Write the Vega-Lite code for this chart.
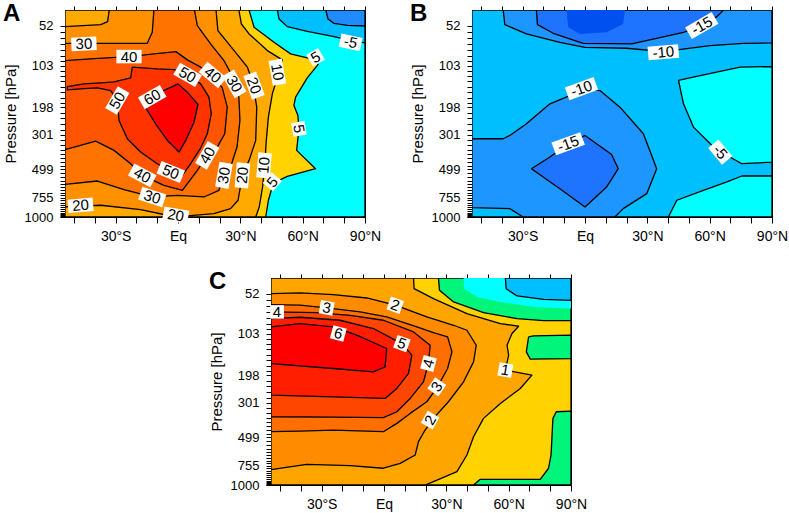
{
"$schema": "https://vega.github.io/schema/vega-lite/v6.json",
"padding": {"left": 2, "top": 1, "right": 0, "bottom": 0},
"config": {
  "font": "Liberation Sans",
  "view": {"stroke": "black", "strokeWidth": 1},
  "axis": {"labelFont": "Liberation Sans", "titleFont": "Liberation Sans", "labelColor": "black", "titleColor": "black", "tickColor": "black", "domainColor": "black", "grid": false},
  "title": {"font": "Liberation Sans", "color": "black"}
},
"datasets": {
"poly": [
{"panel":"A","pg":"A0","band":"a_cyan","i":0,"lat":-54.4,"p":38.6},{"panel":"A","pg":"A0","band":"a_cyan","i":1,"lat":90,"p":38.6},{"panel":"A","pg":"A0","band":"a_cyan","i":2,"lat":90,"p":1000},{"panel":"A","pg":"A0","band":"a_cyan","i":3,"lat":-54.4,"p":1000},{"panel":"A","pg":"A0","band":"a_cyan","i":4,"lat":-54.4,"p":38.6},
{"panel":"A","pg":"A1","band":"a_m10_m5","i":0,"lat":47.8,"p":38.6},{"panel":"A","pg":"A1","band":"a_m10_m5","i":1,"lat":48.6,"p":45.9},{"panel":"A","pg":"A1","band":"a_m10_m5","i":2,"lat":52.6,"p":52.9},{"panel":"A","pg":"A1","band":"a_m10_m5","i":3,"lat":62.2,"p":57.6},{"panel":"A","pg":"A1","band":"a_m10_m5","i":4,"lat":75.1,"p":63.2},{"panel":"A","pg":"A1","band":"a_m10_m5","i":5,"lat":83.1,"p":67.8},{"panel":"A","pg":"A1","band":"a_m10_m5","i":6,"lat":90,"p":70.6},{"panel":"A","pg":"A1","band":"a_m10_m5","i":7,"lat":90,"p":38.6},{"panel":"A","pg":"A1","band":"a_m10_m5","i":8,"lat":47.8,"p":38.6},
{"panel":"A","pg":"A2","band":"a_lt_m10","i":0,"lat":71.1,"p":38.6},{"panel":"A","pg":"A2","band":"a_lt_m10","i":1,"lat":72.2,"p":45.9},{"panel":"A","pg":"A2","band":"a_lt_m10","i":2,"lat":75.1,"p":49.8},{"panel":"A","pg":"A2","band":"a_lt_m10","i":3,"lat":81.5,"p":51.6},{"panel":"A","pg":"A2","band":"a_lt_m10","i":4,"lat":90,"p":52.3},{"panel":"A","pg":"A2","band":"a_lt_m10","i":5,"lat":90,"p":38.6},{"panel":"A","pg":"A2","band":"a_lt_m10","i":6,"lat":71.1,"p":38.6},
{"panel":"A","pg":"A3","band":"a_5_10","i":0,"lat":-54.4,"p":38.6},{"panel":"A","pg":"A3","band":"a_5_10","i":1,"lat":34.2,"p":38.6},{"panel":"A","pg":"A3","band":"a_5_10","i":2,"lat":36.6,"p":53.5},{"panel":"A","pg":"A3","band":"a_5_10","i":3,"lat":46.2,"p":69.8},{"panel":"A","pg":"A3","band":"a_5_10","i":4,"lat":54.2,"p":85},{"panel":"A","pg":"A3","band":"a_5_10","i":5,"lat":66.2,"p":93.9},{"panel":"A","pg":"A3","band":"a_5_10","i":6,"lat":67.4,"p":101.4},{"panel":"A","pg":"A3","band":"a_5_10","i":7,"lat":62.2,"p":125.6},{"panel":"A","pg":"A3","band":"a_5_10","i":8,"lat":56.6,"p":169.9},{"panel":"A","pg":"A3","band":"a_5_10","i":9,"lat":55.8,"p":193.1},{"panel":"A","pg":"A3","band":"a_5_10","i":10,"lat":57.7,"p":224.8},{"panel":"A","pg":"A3","band":"a_5_10","i":11,"lat":58.2,"p":274.8},{"panel":"A","pg":"A3","band":"a_5_10","i":12,"lat":57.1,"p":378.9},{"panel":"A","pg":"A3","band":"a_5_10","i":13,"lat":66.2,"p":496},{"panel":"A","pg":"A3","band":"a_5_10","i":14,"lat":52.6,"p":554.6},{"panel":"A","pg":"A3","band":"a_5_10","i":15,"lat":45.9,"p":611},{"panel":"A","pg":"A3","band":"a_5_10","i":16,"lat":43.5,"p":785},{"panel":"A","pg":"A3","band":"a_5_10","i":17,"lat":42.2,"p":1000},{"panel":"A","pg":"A3","band":"a_5_10","i":18,"lat":-54.4,"p":1000},{"panel":"A","pg":"A3","band":"a_5_10","i":19,"lat":-54.4,"p":38.6},
{"panel":"A","pg":"A4","band":"a_10_20","i":0,"lat":-54.4,"p":38.6},{"panel":"A","pg":"A4","band":"a_10_20","i":1,"lat":29.3,"p":38.6},{"panel":"A","pg":"A4","band":"a_10_20","i":2,"lat":30.5,"p":50.4},{"panel":"A","pg":"A4","band":"a_10_20","i":3,"lat":34.2,"p":60.3},{"panel":"A","pg":"A4","band":"a_10_20","i":4,"lat":43,"p":80.4},{"panel":"A","pg":"A4","band":"a_10_20","i":5,"lat":50.2,"p":93.9},{"panel":"A","pg":"A4","band":"a_10_20","i":6,"lat":48.6,"p":114.7},{"panel":"A","pg":"A4","band":"a_10_20","i":7,"lat":45.4,"p":161.4},{"panel":"A","pg":"A4","band":"a_10_20","i":8,"lat":43.5,"p":230.6},{"panel":"A","pg":"A4","band":"a_10_20","i":9,"lat":42.5,"p":326.9},{"panel":"A","pg":"A4","band":"a_10_20","i":10,"lat":41.7,"p":472.4},{"panel":"A","pg":"A4","band":"a_10_20","i":11,"lat":40.7,"p":647.6},{"panel":"A","pg":"A4","band":"a_10_20","i":12,"lat":39.1,"p":865},{"panel":"A","pg":"A4","band":"a_10_20","i":13,"lat":37.4,"p":1000},{"panel":"A","pg":"A4","band":"a_10_20","i":14,"lat":-54.4,"p":1000},{"panel":"A","pg":"A4","band":"a_10_20","i":15,"lat":-54.4,"p":38.6},
{"panel":"A","pg":"A5","band":"a_20_30","i":0,"lat":-54.4,"p":52.9},{"panel":"A","pg":"A5","band":"a_20_30","i":1,"lat":-37.2,"p":51},{"panel":"A","pg":"A5","band":"a_20_30","i":2,"lat":-33.9,"p":48.3},{"panel":"A","pg":"A5","band":"a_20_30","i":3,"lat":-33.1,"p":38.6},{"panel":"A","pg":"A5","band":"a_20_30","i":4,"lat":18.3,"p":38.6},{"panel":"A","pg":"A5","band":"a_20_30","i":5,"lat":19.2,"p":56.9},{"panel":"A","pg":"A5","band":"a_20_30","i":6,"lat":27,"p":80.4},{"panel":"A","pg":"A5","band":"a_20_30","i":7,"lat":33.4,"p":105.8},{"panel":"A","pg":"A5","band":"a_20_30","i":8,"lat":35.9,"p":133.1},{"panel":"A","pg":"A5","band":"a_20_30","i":9,"lat":37.9,"p":198.1},{"panel":"A","pg":"A5","band":"a_20_30","i":10,"lat":37.4,"p":326.9},{"panel":"A","pg":"A5","band":"a_20_30","i":11,"lat":34.2,"p":439},{"panel":"A","pg":"A5","band":"a_20_30","i":12,"lat":31,"p":546.6},{"panel":"A","pg":"A5","band":"a_20_30","i":13,"lat":28.9,"p":785},{"panel":"A","pg":"A5","band":"a_20_30","i":14,"lat":25.3,"p":886},{"panel":"A","pg":"A5","band":"a_20_30","i":15,"lat":17.3,"p":952},{"panel":"A","pg":"A5","band":"a_20_30","i":16,"lat":4.5,"p":984},{"panel":"A","pg":"A5","band":"a_20_30","i":17,"lat":-5.1,"p":975},{"panel":"A","pg":"A5","band":"a_20_30","i":18,"lat":-18,"p":898.7},{"panel":"A","pg":"A5","band":"a_20_30","i":19,"lat":-37.2,"p":844},{"panel":"A","pg":"A5","band":"a_20_30","i":20,"lat":-54.4,"p":865},{"panel":"A","pg":"A5","band":"a_20_30","i":21,"lat":-54.4,"p":52.9},
{"panel":"A","pg":"A6","band":"a_30_40","i":0,"lat":-54.4,"p":71},{"panel":"A","pg":"A6","band":"a_30_40","i":1,"lat":-37.2,"p":71},{"panel":"A","pg":"A6","band":"a_30_40","i":2,"lat":-14.8,"p":71},{"panel":"A","pg":"A6","band":"a_30_40","i":3,"lat":-12.4,"p":58.6},{"panel":"A","pg":"A6","band":"a_30_40","i":4,"lat":-11.6,"p":38.6},{"panel":"A","pg":"A6","band":"a_30_40","i":5,"lat":7.9,"p":38.6},{"panel":"A","pg":"A6","band":"a_30_40","i":6,"lat":9.3,"p":51.9},{"panel":"A","pg":"A6","band":"a_30_40","i":7,"lat":15.7,"p":71.8},{"panel":"A","pg":"A6","band":"a_30_40","i":8,"lat":22.1,"p":94.9},{"panel":"A","pg":"A6","band":"a_30_40","i":9,"lat":27.1,"p":129.6},{"panel":"A","pg":"A6","band":"a_30_40","i":10,"lat":29.3,"p":169.9},{"panel":"A","pg":"A6","band":"a_30_40","i":11,"lat":29.8,"p":242.5},{"panel":"A","pg":"A6","band":"a_30_40","i":12,"lat":28.4,"p":360.8},{"panel":"A","pg":"A6","band":"a_30_40","i":13,"lat":25.3,"p":483.9},{"panel":"A","pg":"A6","band":"a_30_40","i":14,"lat":22.1,"p":546.6},{"panel":"A","pg":"A6","band":"a_30_40","i":15,"lat":19.7,"p":679.6},{"panel":"A","pg":"A6","band":"a_30_40","i":16,"lat":12.5,"p":748.6},{"panel":"A","pg":"A6","band":"a_30_40","i":17,"lat":-0.3,"p":730.8},{"panel":"A","pg":"A6","band":"a_30_40","i":18,"lat":-12.4,"p":748.6},{"panel":"A","pg":"A6","band":"a_30_40","i":19,"lat":-26,"p":673.1},{"panel":"A","pg":"A6","band":"a_30_40","i":20,"lat":-38.8,"p":593.7},{"panel":"A","pg":"A6","band":"a_30_40","i":21,"lat":-54.4,"p":623},{"panel":"A","pg":"A6","band":"a_30_40","i":22,"lat":-54.4,"p":71},
{"panel":"A","pg":"A7","band":"a_40_50","i":0,"lat":-54.4,"p":94.9},{"panel":"A","pg":"A7","band":"a_40_50","i":1,"lat":-40.4,"p":91.9},{"panel":"A","pg":"A7","band":"a_40_50","i":2,"lat":-23.4,"p":88.9},{"panel":"A","pg":"A7","band":"a_40_50","i":3,"lat":-11.6,"p":85},{"panel":"A","pg":"A7","band":"a_40_50","i":4,"lat":-1,"p":81.8},{"panel":"A","pg":"A7","band":"a_40_50","i":5,"lat":4.5,"p":93.9},{"panel":"A","pg":"A7","band":"a_40_50","i":6,"lat":10.9,"p":105.8},{"panel":"A","pg":"A7","band":"a_40_50","i":7,"lat":16.7,"p":119.8},{"panel":"A","pg":"A7","band":"a_40_50","i":8,"lat":21.3,"p":147},{"panel":"A","pg":"A7","band":"a_40_50","i":9,"lat":23.7,"p":198.1},{"panel":"A","pg":"A7","band":"a_40_50","i":10,"lat":22.5,"p":296},{"panel":"A","pg":"A7","band":"a_40_50","i":11,"lat":18.9,"p":360.8},{"panel":"A","pg":"A7","band":"a_40_50","i":12,"lat":14.1,"p":407.9},{"panel":"A","pg":"A7","band":"a_40_50","i":13,"lat":9.3,"p":508.2},{"panel":"A","pg":"A7","band":"a_40_50","i":14,"lat":2.1,"p":679.6},{"panel":"A","pg":"A7","band":"a_40_50","i":15,"lat":-6.8,"p":632},{"panel":"A","pg":"A7","band":"a_40_50","i":16,"lat":-17.2,"p":546.6},{"panel":"A","pg":"A7","band":"a_40_50","i":17,"lat":-22.8,"p":461},{"panel":"A","pg":"A7","band":"a_40_50","i":18,"lat":-30.8,"p":378.9},{"panel":"A","pg":"A7","band":"a_40_50","i":19,"lat":-39.6,"p":330.1},{"panel":"A","pg":"A7","band":"a_40_50","i":20,"lat":-54.4,"p":375.2},{"panel":"A","pg":"A7","band":"a_40_50","i":21,"lat":-54.4,"p":94.9},
{"panel":"A","pg":"A8","band":"a_50_60","i":0,"lat":-22,"p":105.8},{"panel":"A","pg":"A8","band":"a_50_60","i":1,"lat":-10,"p":108.7},{"panel":"A","pg":"A8","band":"a_50_60","i":2,"lat":-1.9,"p":109.9},{"panel":"A","pg":"A8","band":"a_50_60","i":3,"lat":4.6,"p":119.8},{"panel":"A","pg":"A8","band":"a_50_60","i":4,"lat":10.9,"p":138.1},{"panel":"A","pg":"A8","band":"a_50_60","i":5,"lat":14.9,"p":169.9},{"panel":"A","pg":"A8","band":"a_50_60","i":6,"lat":16,"p":219.2},{"panel":"A","pg":"A8","band":"a_50_60","i":7,"lat":14.1,"p":296},{"panel":"A","pg":"A8","band":"a_50_60","i":8,"lat":10.9,"p":366.2},{"panel":"A","pg":"A8","band":"a_50_60","i":9,"lat":6.1,"p":461},{"panel":"A","pg":"A8","band":"a_50_60","i":10,"lat":2.1,"p":546.6},{"panel":"A","pg":"A8","band":"a_50_60","i":11,"lat":-3.5,"p":520.8},{"panel":"A","pg":"A8","band":"a_50_60","i":12,"lat":-10,"p":461},{"panel":"A","pg":"A8","band":"a_50_60","i":13,"lat":-18,"p":388.4},{"panel":"A","pg":"A8","band":"a_50_60","i":14,"lat":-24.4,"p":318.9},{"panel":"A","pg":"A8","band":"a_50_60","i":15,"lat":-28.4,"p":242.5},{"panel":"A","pg":"A8","band":"a_50_60","i":16,"lat":-29.2,"p":178.9},{"panel":"A","pg":"A8","band":"a_50_60","i":17,"lat":-32.4,"p":153.3},{"panel":"A","pg":"A8","band":"a_50_60","i":18,"lat":-38.8,"p":147},{"panel":"A","pg":"A8","band":"a_50_60","i":19,"lat":-45.3,"p":148.9},{"panel":"A","pg":"A8","band":"a_50_60","i":20,"lat":-53.3,"p":151.7},{"panel":"A","pg":"A8","band":"a_50_60","i":21,"lat":-53.3,"p":144},{"panel":"A","pg":"A8","band":"a_50_60","i":22,"lat":-45.3,"p":138.1},{"panel":"A","pg":"A8","band":"a_50_60","i":23,"lat":-37.2,"p":135.9},{"panel":"A","pg":"A8","band":"a_50_60","i":24,"lat":-30.8,"p":133.8},{"panel":"A","pg":"A8","band":"a_50_60","i":25,"lat":-22.8,"p":125.6},{"panel":"A","pg":"A8","band":"a_50_60","i":26,"lat":-22,"p":105.8},
{"panel":"A","pg":"A9","band":"a_gt60","i":0,"lat":-17.2,"p":183.5},{"panel":"A","pg":"A9","band":"a_gt60","i":1,"lat":-8.4,"p":157.3},{"panel":"A","pg":"A9","band":"a_gt60","i":2,"lat":0,"p":138.1},{"panel":"A","pg":"A9","band":"a_gt60","i":3,"lat":4.5,"p":157.3},{"panel":"A","pg":"A9","band":"a_gt60","i":4,"lat":9.6,"p":190.2},{"panel":"A","pg":"A9","band":"a_gt60","i":5,"lat":7.7,"p":248.6},{"panel":"A","pg":"A9","band":"a_gt60","i":6,"lat":3.7,"p":326.9},{"panel":"A","pg":"A9","band":"a_gt60","i":7,"lat":0.5,"p":388.4},{"panel":"A","pg":"A9","band":"a_gt60","i":8,"lat":-5.1,"p":326.9},{"panel":"A","pg":"A9","band":"a_gt60","i":9,"lat":-10.8,"p":254.9},{"panel":"A","pg":"A9","band":"a_gt60","i":10,"lat":-14.8,"p":208.4},{"panel":"A","pg":"A9","band":"a_gt60","i":11,"lat":-17.2,"p":183.5},
{"panel":"B","pg":"B0","band":"b_m10_m5","i":0,"lat":-54.4,"p":38.6},{"panel":"B","pg":"B0","band":"b_m10_m5","i":1,"lat":90,"p":38.6},{"panel":"B","pg":"B0","band":"b_m10_m5","i":2,"lat":90,"p":1000},{"panel":"B","pg":"B0","band":"b_m10_m5","i":3,"lat":-54.4,"p":1000},{"panel":"B","pg":"B0","band":"b_m10_m5","i":4,"lat":-54.4,"p":38.6},
{"panel":"B","pg":"B1","band":"b_gt_m5","i":0,"lat":45,"p":130.9},{"panel":"B","pg":"B1","band":"b_gt_m5","i":1,"lat":55.4,"p":121.1},{"panel":"B","pg":"B1","band":"b_gt_m5","i":2,"lat":74.7,"p":105.8},{"panel":"B","pg":"B1","band":"b_gt_m5","i":3,"lat":90,"p":104.7},{"panel":"B","pg":"B1","band":"b_gt_m5","i":4,"lat":90,"p":450.6},{"panel":"B","pg":"B1","band":"b_gt_m5","i":5,"lat":75.5,"p":461},{"panel":"B","pg":"B1","band":"b_gt_m5","i":6,"lat":68.3,"p":407.9},{"panel":"B","pg":"B1","band":"b_gt_m5","i":7,"lat":61.9,"p":360.8},{"panel":"B","pg":"B1","band":"b_gt_m5","i":8,"lat":52.2,"p":268},{"panel":"B","pg":"B1","band":"b_gt_m5","i":9,"lat":47.4,"p":188.3},{"panel":"B","pg":"B1","band":"b_gt_m5","i":10,"lat":45,"p":130.9},
{"panel":"B","pg":"B2","band":"b_gt_m5","i":0,"lat":40.1,"p":1000},{"panel":"B","pg":"B2","band":"b_gt_m5","i":1,"lat":44.2,"p":785},{"panel":"B","pg":"B2","band":"b_gt_m5","i":2,"lat":57,"p":679.6},{"panel":"B","pg":"B2","band":"b_gt_m5","i":3,"lat":68.3,"p":602},{"panel":"B","pg":"B2","band":"b_gt_m5","i":4,"lat":75.5,"p":552},{"panel":"B","pg":"B2","band":"b_gt_m5","i":5,"lat":90,"p":552},{"panel":"B","pg":"B2","band":"b_gt_m5","i":6,"lat":90,"p":1000},{"panel":"B","pg":"B2","band":"b_gt_m5","i":7,"lat":40.1,"p":1000},
{"panel":"B","pg":"B3","band":"b_m15_m10","i":0,"lat":-39.4,"p":38.6},{"panel":"B","pg":"B3","band":"b_m15_m10","i":1,"lat":-38.6,"p":51},{"panel":"B","pg":"B3","band":"b_m15_m10","i":2,"lat":-28.2,"p":60.3},{"panel":"B","pg":"B3","band":"b_m15_m10","i":3,"lat":-12.1,"p":69.8},{"panel":"B","pg":"B3","band":"b_m15_m10","i":4,"lat":0,"p":76.1},{"panel":"B","pg":"B3","band":"b_m15_m10","i":5,"lat":20,"p":77.3},{"panel":"B","pg":"B3","band":"b_m15_m10","i":6,"lat":37.7,"p":81.7},{"panel":"B","pg":"B3","band":"b_m15_m10","i":7,"lat":60.2,"p":73.9},{"panel":"B","pg":"B3","band":"b_m15_m10","i":8,"lat":76.3,"p":71},{"panel":"B","pg":"B3","band":"b_m15_m10","i":9,"lat":90,"p":70.6},{"panel":"B","pg":"B3","band":"b_m15_m10","i":10,"lat":90,"p":38.6},{"panel":"B","pg":"B3","band":"b_m15_m10","i":11,"lat":-39.4,"p":38.6},
{"panel":"B","pg":"B4","band":"b_m15_m10","i":0,"lat":-54.4,"p":318.9},{"panel":"B","pg":"B4","band":"b_m15_m10","i":1,"lat":-39.4,"p":318.9},{"panel":"B","pg":"B4","band":"b_m15_m10","i":2,"lat":-36.2,"p":303.5},{"panel":"B","pg":"B4","band":"b_m15_m10","i":3,"lat":-28.2,"p":254.9},{"panel":"B","pg":"B4","band":"b_m15_m10","i":4,"lat":-16.9,"p":188.3},{"panel":"B","pg":"B4","band":"b_m15_m10","i":5,"lat":-7.3,"p":165.7},{"panel":"B","pg":"B4","band":"b_m15_m10","i":6,"lat":-1.7,"p":148.9},{"panel":"B","pg":"B4","band":"b_m15_m10","i":7,"lat":7.2,"p":153.3},{"panel":"B","pg":"B4","band":"b_m15_m10","i":8,"lat":16.8,"p":198.1},{"panel":"B","pg":"B4","band":"b_m15_m10","i":9,"lat":28.1,"p":296},{"panel":"B","pg":"B4","band":"b_m15_m10","i":10,"lat":34.5,"p":496},{"panel":"B","pg":"B4","band":"b_m15_m10","i":11,"lat":29.7,"p":713.4},{"panel":"B","pg":"B4","band":"b_m15_m10","i":12,"lat":18.4,"p":886},{"panel":"B","pg":"B4","band":"b_m15_m10","i":13,"lat":14.4,"p":1000},{"panel":"B","pg":"B4","band":"b_m15_m10","i":14,"lat":-29.8,"p":1000},{"panel":"B","pg":"B4","band":"b_m15_m10","i":15,"lat":-36.2,"p":886},{"panel":"B","pg":"B4","band":"b_m15_m10","i":16,"lat":-54.4,"p":873},{"panel":"B","pg":"B4","band":"b_m15_m10","i":17,"lat":-54.4,"p":318.9},
{"panel":"B","pg":"B5","band":"b_lt_m15","i":0,"lat":-23.4,"p":38.6},{"panel":"B","pg":"B5","band":"b_lt_m15","i":1,"lat":-22.9,"p":51},{"panel":"B","pg":"B5","band":"b_lt_m15","i":2,"lat":-15.3,"p":59.6},{"panel":"B","pg":"B5","band":"b_lt_m15","i":3,"lat":-0.9,"p":71},{"panel":"B","pg":"B5","band":"b_lt_m15","i":4,"lat":22.5,"p":71.8},{"panel":"B","pg":"B5","band":"b_lt_m15","i":5,"lat":47.4,"p":58.6},{"panel":"B","pg":"B5","band":"b_lt_m15","i":6,"lat":56.2,"p":51.9},{"panel":"B","pg":"B5","band":"b_lt_m15","i":7,"lat":63.5,"p":43.9},{"panel":"B","pg":"B5","band":"b_lt_m15","i":8,"lat":66.7,"p":38.6},{"panel":"B","pg":"B5","band":"b_lt_m15","i":9,"lat":-23.4,"p":38.6},
{"panel":"B","pg":"B6","band":"b_lt_m15","i":0,"lat":-25.8,"p":496},{"panel":"B","pg":"B6","band":"b_lt_m15","i":1,"lat":-16.9,"p":418},{"panel":"B","pg":"B6","band":"b_lt_m15","i":2,"lat":-8.1,"p":343.4},{"panel":"B","pg":"B6","band":"b_lt_m15","i":3,"lat":0,"p":303.5},{"panel":"B","pg":"B6","band":"b_lt_m15","i":4,"lat":12.8,"p":402.5},{"panel":"B","pg":"B6","band":"b_lt_m15","i":5,"lat":16,"p":496},{"panel":"B","pg":"B6","band":"b_lt_m15","i":6,"lat":10.4,"p":647.6},{"panel":"B","pg":"B6","band":"b_lt_m15","i":7,"lat":0,"p":865},{"panel":"B","pg":"B6","band":"b_lt_m15","i":8,"lat":-12.1,"p":663.5},{"panel":"B","pg":"B6","band":"b_lt_m15","i":9,"lat":-25.8,"p":496},
{"panel":"B","pg":"B7","band":"b_lt_m20","i":0,"lat":-8.9,"p":38.6},{"panel":"B","pg":"B7","band":"b_lt_m20","i":1,"lat":-8.1,"p":53.5},{"panel":"B","pg":"B7","band":"b_lt_m20","i":2,"lat":-2.5,"p":60.3},{"panel":"B","pg":"B7","band":"b_lt_m20","i":3,"lat":10.4,"p":58.6},{"panel":"B","pg":"B7","band":"b_lt_m20","i":4,"lat":18.4,"p":50.4},{"panel":"B","pg":"B7","band":"b_lt_m20","i":5,"lat":19.2,"p":38.6},{"panel":"B","pg":"B7","band":"b_lt_m20","i":6,"lat":-8.9,"p":38.6},
{"panel":"C","pg":"C0","band":"c_0_1","i":0,"lat":-54.4,"p":38.6},{"panel":"C","pg":"C0","band":"c_0_1","i":1,"lat":90,"p":38.6},{"panel":"C","pg":"C0","band":"c_0_1","i":2,"lat":90,"p":1000},{"panel":"C","pg":"C0","band":"c_0_1","i":3,"lat":-54.4,"p":1000},{"panel":"C","pg":"C0","band":"c_0_1","i":4,"lat":-54.4,"p":38.6},
{"panel":"C","pg":"C1","band":"c_lt0","i":0,"lat":26.2,"p":38.6},{"panel":"C","pg":"C1","band":"c_lt0","i":1,"lat":26.7,"p":48.7},{"panel":"C","pg":"C1","band":"c_lt0","i":2,"lat":33.5,"p":60.3},{"panel":"C","pg":"C1","band":"c_lt0","i":3,"lat":47.9,"p":72.6},{"panel":"C","pg":"C1","band":"c_lt0","i":4,"lat":64,"p":80.4},{"panel":"C","pg":"C1","band":"c_lt0","i":5,"lat":76.8,"p":83.2},{"panel":"C","pg":"C1","band":"c_lt0","i":6,"lat":90,"p":83.2},{"panel":"C","pg":"C1","band":"c_lt0","i":7,"lat":90,"p":38.6},{"panel":"C","pg":"C1","band":"c_lt0","i":8,"lat":26.2,"p":38.6},
{"panel":"C","pg":"C2","band":"c_lt0","i":0,"lat":69.6,"p":108.7},{"panel":"C","pg":"C2","band":"c_lt0","i":1,"lat":72,"p":107},{"panel":"C","pg":"C2","band":"c_lt0","i":2,"lat":90,"p":105.8},{"panel":"C","pg":"C2","band":"c_lt0","i":3,"lat":90,"p":153.3},{"panel":"C","pg":"C2","band":"c_lt0","i":4,"lat":70.4,"p":154.8},{"panel":"C","pg":"C2","band":"c_lt0","i":5,"lat":68.5,"p":138.1},{"panel":"C","pg":"C2","band":"c_lt0","i":6,"lat":69.1,"p":121.1},{"panel":"C","pg":"C2","band":"c_lt0","i":7,"lat":69.6,"p":108.7},
{"panel":"C","pg":"C3","band":"c_lt0","i":0,"lat":43.1,"p":1000},{"panel":"C","pg":"C3","band":"c_lt0","i":1,"lat":46.3,"p":921},{"panel":"C","pg":"C3","band":"c_lt0","i":2,"lat":75.2,"p":921},{"panel":"C","pg":"C3","band":"c_lt0","i":3,"lat":79.2,"p":785},{"panel":"C","pg":"C3","band":"c_lt0","i":4,"lat":80.4,"p":647.6},{"panel":"C","pg":"C3","band":"c_lt0","i":5,"lat":81.3,"p":378.9},{"panel":"C","pg":"C3","band":"c_lt0","i":6,"lat":82.9,"p":343.4},{"panel":"C","pg":"C3","band":"c_lt0","i":7,"lat":90,"p":340},{"panel":"C","pg":"C3","band":"c_lt0","i":8,"lat":90,"p":1000},{"panel":"C","pg":"C3","band":"c_lt0","i":9,"lat":43.1,"p":1000},
{"panel":"C","pg":"C4","band":"c_cyan","i":0,"lat":38.3,"p":38.6},{"panel":"C","pg":"C4","band":"c_cyan","i":1,"lat":38.6,"p":47.4},{"panel":"C","pg":"C4","band":"c_cyan","i":2,"lat":44.7,"p":55.2},{"panel":"C","pg":"C4","band":"c_cyan","i":3,"lat":56,"p":60.3},{"panel":"C","pg":"C4","band":"c_cyan","i":4,"lat":72,"p":65.9},{"panel":"C","pg":"C4","band":"c_cyan","i":5,"lat":90,"p":67.8},{"panel":"C","pg":"C4","band":"c_cyan","i":6,"lat":90,"p":38.6},{"panel":"C","pg":"C4","band":"c_cyan","i":7,"lat":38.3,"p":38.6},
{"panel":"C","pg":"C5","band":"c_blue","i":0,"lat":58.4,"p":38.6},{"panel":"C","pg":"C5","band":"c_blue","i":1,"lat":58.8,"p":47.4},{"panel":"C","pg":"C5","band":"c_blue","i":2,"lat":64,"p":54.2},{"panel":"C","pg":"C5","band":"c_blue","i":3,"lat":76.8,"p":57.6},{"panel":"C","pg":"C5","band":"c_blue","i":4,"lat":90,"p":58.6},{"panel":"C","pg":"C5","band":"c_blue","i":5,"lat":90,"p":38.6},{"panel":"C","pg":"C5","band":"c_blue","i":6,"lat":58.4,"p":38.6},
{"panel":"C","pg":"C6","band":"c_1_2","i":0,"lat":-54.4,"p":38.6},{"panel":"C","pg":"C6","band":"c_1_2","i":1,"lat":14.2,"p":38.6},{"panel":"C","pg":"C6","band":"c_1_2","i":2,"lat":14.5,"p":47.4},{"panel":"C","pg":"C6","band":"c_1_2","i":3,"lat":23.8,"p":56.9},{"panel":"C","pg":"C6","band":"c_1_2","i":4,"lat":39.9,"p":73.9},{"panel":"C","pg":"C6","band":"c_1_2","i":5,"lat":56,"p":87.4},{"panel":"C","pg":"C6","band":"c_1_2","i":6,"lat":64.8,"p":91.4},{"panel":"C","pg":"C6","band":"c_1_2","i":7,"lat":61.6,"p":103},{"panel":"C","pg":"C6","band":"c_1_2","i":8,"lat":59.2,"p":124.3},{"panel":"C","pg":"C6","band":"c_1_2","i":9,"lat":60,"p":145.5},{"panel":"C","pg":"C6","band":"c_1_2","i":10,"lat":58.4,"p":183.4},{"panel":"C","pg":"C6","band":"c_1_2","i":11,"lat":71.2,"p":198.1},{"panel":"C","pg":"C6","band":"c_1_2","i":12,"lat":65.6,"p":242.5},{"panel":"C","pg":"C6","band":"c_1_2","i":13,"lat":56,"p":303.5},{"panel":"C","pg":"C6","band":"c_1_2","i":14,"lat":47.9,"p":378.9},{"panel":"C","pg":"C6","band":"c_1_2","i":15,"lat":43.1,"p":496},{"panel":"C","pg":"C6","band":"c_1_2","i":16,"lat":39.9,"p":647.6},{"panel":"C","pg":"C6","band":"c_1_2","i":17,"lat":35.1,"p":824},{"panel":"C","pg":"C6","band":"c_1_2","i":18,"lat":23.8,"p":952},{"panel":"C","pg":"C6","band":"c_1_2","i":19,"lat":19.8,"p":1000},{"panel":"C","pg":"C6","band":"c_1_2","i":20,"lat":-54.4,"p":1000},{"panel":"C","pg":"C6","band":"c_1_2","i":21,"lat":-54.4,"p":38.6},
{"panel":"C","pg":"C7","band":"c_2_3","i":0,"lat":-54.4,"p":51.9},{"panel":"C","pg":"C7","band":"c_2_3","i":1,"lat":-40.4,"p":51.3},{"panel":"C","pg":"C7","band":"c_2_3","i":2,"lat":-24.4,"p":52.9},{"panel":"C","pg":"C7","band":"c_2_3","i":3,"lat":-8.3,"p":56.2},{"panel":"C","pg":"C7","band":"c_2_3","i":4,"lat":5.4,"p":63.9},{"panel":"C","pg":"C7","band":"c_2_3","i":5,"lat":20.6,"p":78.2},{"panel":"C","pg":"C7","band":"c_2_3","i":6,"lat":33.5,"p":89.9},{"panel":"C","pg":"C7","band":"c_2_3","i":7,"lat":39.9,"p":97.6},{"panel":"C","pg":"C7","band":"c_2_3","i":8,"lat":44.4,"p":124.3},{"panel":"C","pg":"C7","band":"c_2_3","i":9,"lat":43.1,"p":161.4},{"panel":"C","pg":"C7","band":"c_2_3","i":10,"lat":38.3,"p":219.2},{"panel":"C","pg":"C7","band":"c_2_3","i":11,"lat":31,"p":296},{"panel":"C","pg":"C7","band":"c_2_3","i":12,"lat":23.8,"p":378.9},{"panel":"C","pg":"C7","band":"c_2_3","i":13,"lat":19.3,"p":461},{"panel":"C","pg":"C7","band":"c_2_3","i":14,"lat":16.6,"p":533.5},{"panel":"C","pg":"C7","band":"c_2_3","i":15,"lat":15,"p":647.6},{"panel":"C","pg":"C7","band":"c_2_3","i":16,"lat":7.8,"p":730.8},{"panel":"C","pg":"C7","band":"c_2_3","i":17,"lat":-0.3,"p":785},{"panel":"C","pg":"C7","band":"c_2_3","i":18,"lat":-16.3,"p":755.9},{"panel":"C","pg":"C7","band":"c_2_3","i":19,"lat":-37.2,"p":741.3},{"panel":"C","pg":"C7","band":"c_2_3","i":20,"lat":-54.4,"p":802},{"panel":"C","pg":"C7","band":"c_2_3","i":21,"lat":-54.4,"p":51.9},
{"panel":"C","pg":"C8","band":"c_3_4","i":0,"lat":-54.4,"p":63.2},{"panel":"C","pg":"C8","band":"c_3_4","i":1,"lat":-40.4,"p":63.9},{"panel":"C","pg":"C8","band":"c_3_4","i":2,"lat":-27.6,"p":67},{"panel":"C","pg":"C8","band":"c_3_4","i":3,"lat":-11.5,"p":71.8},{"panel":"C","pg":"C8","band":"c_3_4","i":4,"lat":1.3,"p":78.2},{"panel":"C","pg":"C8","band":"c_3_4","i":5,"lat":15.8,"p":92.4},{"panel":"C","pg":"C8","band":"c_3_4","i":6,"lat":23.8,"p":101.4},{"panel":"C","pg":"C8","band":"c_3_4","i":7,"lat":30.6,"p":108.7},{"panel":"C","pg":"C8","band":"c_3_4","i":8,"lat":32.7,"p":138.1},{"panel":"C","pg":"C8","band":"c_3_4","i":9,"lat":30.6,"p":178.9},{"panel":"C","pg":"C8","band":"c_3_4","i":10,"lat":25.8,"p":236.5},{"panel":"C","pg":"C8","band":"c_3_4","i":11,"lat":20.6,"p":296},{"panel":"C","pg":"C8","band":"c_3_4","i":12,"lat":12.6,"p":352},{"panel":"C","pg":"C8","band":"c_3_4","i":13,"lat":6.2,"p":407.9},{"panel":"C","pg":"C8","band":"c_3_4","i":14,"lat":-0.3,"p":461},{"panel":"C","pg":"C8","band":"c_3_4","i":15,"lat":-24.4,"p":450.6},{"panel":"C","pg":"C8","band":"c_3_4","i":16,"lat":-40.4,"p":456.5},{"panel":"C","pg":"C8","band":"c_3_4","i":17,"lat":-54.4,"p":461},{"panel":"C","pg":"C8","band":"c_3_4","i":18,"lat":-54.4,"p":63.2},
{"panel":"C","pg":"C9","band":"c_4_5","i":0,"lat":-54.4,"p":71.8},{"panel":"C","pg":"C9","band":"c_4_5","i":1,"lat":-32.4,"p":72.6},{"panel":"C","pg":"C9","band":"c_4_5","i":2,"lat":-16.3,"p":76.1},{"panel":"C","pg":"C9","band":"c_4_5","i":3,"lat":-0.3,"p":82.7},{"panel":"C","pg":"C9","band":"c_4_5","i":4,"lat":14.2,"p":100.3},{"panel":"C","pg":"C9","band":"c_4_5","i":5,"lat":22.2,"p":124.3},{"panel":"C","pg":"C9","band":"c_4_5","i":6,"lat":21.4,"p":165.7},{"panel":"C","pg":"C9","band":"c_4_5","i":7,"lat":19,"p":219.2},{"panel":"C","pg":"C9","band":"c_4_5","i":8,"lat":12.6,"p":281.7},{"panel":"C","pg":"C9","band":"c_4_5","i":9,"lat":6.2,"p":343.4},{"panel":"C","pg":"C9","band":"c_4_5","i":10,"lat":-0.3,"p":375.2},{"panel":"C","pg":"C9","band":"c_4_5","i":11,"lat":-24.4,"p":371.5},{"panel":"C","pg":"C9","band":"c_4_5","i":12,"lat":-54.4,"p":369.8},{"panel":"C","pg":"C9","band":"c_4_5","i":13,"lat":-54.4,"p":71.8},
{"panel":"C","pg":"C10","band":"c_5_6","i":0,"lat":-54.4,"p":80.4},{"panel":"C","pg":"C10","band":"c_5_6","i":1,"lat":-40.4,"p":78.6},{"panel":"C","pg":"C10","band":"c_5_6","i":2,"lat":-21.2,"p":82.7},{"panel":"C","pg":"C10","band":"c_5_6","i":3,"lat":-5.1,"p":94.9},{"panel":"C","pg":"C10","band":"c_5_6","i":4,"lat":8.6,"p":121.1},{"panel":"C","pg":"C10","band":"c_5_6","i":5,"lat":13.4,"p":145.5},{"panel":"C","pg":"C10","band":"c_5_6","i":6,"lat":11.8,"p":193.1},{"panel":"C","pg":"C10","band":"c_5_6","i":7,"lat":6.2,"p":242.5},{"panel":"C","pg":"C10","band":"c_5_6","i":8,"lat":0.5,"p":281.7},{"panel":"C","pg":"C10","band":"c_5_6","i":9,"lat":-24.4,"p":274.8},{"panel":"C","pg":"C10","band":"c_5_6","i":10,"lat":-54.4,"p":268},{"panel":"C","pg":"C10","band":"c_5_6","i":11,"lat":-54.4,"p":80.4},
{"panel":"C","pg":"C11","band":"c_gt6","i":0,"lat":-54.4,"p":92.4},{"panel":"C","pg":"C11","band":"c_gt6","i":1,"lat":-40.4,"p":87.4},{"panel":"C","pg":"C11","band":"c_gt6","i":2,"lat":-24.4,"p":92.4},{"panel":"C","pg":"C11","band":"c_gt6","i":3,"lat":-13.1,"p":105.8},{"panel":"C","pg":"C11","band":"c_gt6","i":4,"lat":1.3,"p":130.9},{"panel":"C","pg":"C11","band":"c_gt6","i":5,"lat":0.5,"p":174.4},{"panel":"C","pg":"C11","band":"c_gt6","i":6,"lat":-5.1,"p":188.3},{"panel":"C","pg":"C11","band":"c_gt6","i":7,"lat":-24.4,"p":178.9},{"panel":"C","pg":"C11","band":"c_gt6","i":8,"lat":-54.4,"p":165.7},{"panel":"C","pg":"C11","band":"c_gt6","i":9,"lat":-54.4,"p":92.4}
],
"lab": [
{"panel":"A","t":"30","lat":-45.3,"p":71.8,"rot":-3},
{"panel":"A","t":"40","lat":-23.6,"p":88.9,"rot":0},
{"panel":"A","t":"50","lat":4.6,"p":119.8,"rot":30},
{"panel":"A","t":"40","lat":16.7,"p":119.8,"rot":40},
{"panel":"A","t":"30","lat":27.1,"p":138.1,"rot":60},
{"panel":"A","t":"20","lat":36.6,"p":141.8,"rot":70},
{"panel":"A","t":"10","lat":47.8,"p":114.7,"rot":80},
{"panel":"A","t":"5","lat":66.2,"p":89.9,"rot":-30},
{"panel":"A","t":"-5","lat":83.1,"p":69.8,"rot":12},
{"panel":"A","t":"50","lat":-29.2,"p":178.9,"rot":-60},
{"panel":"A","t":"60","lat":-12.4,"p":169.9,"rot":-30},
{"panel":"A","t":"5","lat":58.2,"p":274.8,"rot":80},
{"panel":"A","t":"40","lat":14.1,"p":407.9,"rot":-60},
{"panel":"A","t":"50","lat":-3.5,"p":520.8,"rot":22},
{"panel":"A","t":"40","lat":-17.2,"p":546.6,"rot":28},
{"panel":"A","t":"30","lat":-12.4,"p":748.6,"rot":18},
{"panel":"A","t":"30","lat":22.1,"p":546.6,"rot":-80},
{"panel":"A","t":"20","lat":31,"p":546.6,"rot":-85},
{"panel":"A","t":"10","lat":41.4,"p":472.4,"rot":-85},
{"panel":"A","t":"5","lat":45.4,"p":602,"rot":-50},
{"panel":"A","t":"20","lat":-46.9,"p":844,"rot":-5},
{"panel":"A","t":"20","lat":-1.1,"p":975,"rot":10},
{"panel":"B","t":"-15","lat":56.2,"p":51.9,"rot":-30},
{"panel":"B","t":"-10","lat":37.7,"p":82.7,"rot":-5},
{"panel":"B","t":"-10","lat":-1.7,"p":148.9,"rot":-20},
{"panel":"B","t":"-15","lat":-8.1,"p":343.4,"rot":-20},
{"panel":"B","t":"-5","lat":65.1,"p":388.4,"rot":50},
{"panel":"C","t":"4","lat":-51.5,"p":71.8,"rot":0},
{"panel":"C","t":"3","lat":-27.6,"p":67,"rot":10},
{"panel":"C","t":"2","lat":5.4,"p":63.9,"rot":20},
{"panel":"C","t":"6","lat":-22,"p":103,"rot":15},
{"panel":"C","t":"5","lat":8.6,"p":121.1,"rot":20},
{"panel":"C","t":"4","lat":21.4,"p":165.7,"rot":-75},
{"panel":"C","t":"3","lat":25.4,"p":236.5,"rot":-55},
{"panel":"C","t":"2","lat":22.2,"p":388.4,"rot":-60},
{"panel":"C","t":"1","lat":58.4,"p":183.4,"rot":10}
]
},
"vconcat": [
 {"hconcat": [
  {
   "title": {"text": "A", "anchor": "start", "frame": "bounds", "fontSize": 24, "fontWeight": "bold", "offset": -20},
   "width": 300, "height": 207,
   "encoding": {
     "y": {"field": "p", "type": "quantitative", "scale": {"type": "symlog", "constant": 15, "domain": [38.6, 1000], "reverse": true, "nice": false, "zero": false},
           "axis": {"orient": "left", "title": "Pressure [hPa]", "titleFontSize": 15, "titleFontWeight": "normal", "titlePadding": 6, "values": [52,58,65,72,80,88,95,103,112,122,133,145,158,172,185,198,215,235,255,280,301,325,350,375,400,425,450,475,499,530,560,590,620,650,680,705,730,755,785,815,845,870,895,920,940,958,972,984,993,1000], "labelExpr": "(datum.value == 52 || datum.value == 103 || datum.value == 198 || datum.value == 301 || datum.value == 499 || datum.value == 755 || datum.value == 1000) ? '' + datum.value : ''", "tickSize": 5, "labelFontSize": 13, "labelPadding": 7, "labelFlush": false, "labelOverlap": false}}
   },
   "layer": [
    {"data": {"name": "poly"}, "transform": [{"filter": {"field": "panel", "equal": "A"}}],
     "mark": {"type": "line", "stroke": "black", "strokeWidth": 1.3, "clip": true, "strokeJoin": "round"},
     "encoding": {
      "x": {"field": "lat", "type": "quantitative", "scale": {"domain": [-54.4, 90], "nice": false, "zero": false},
            "axis": {"orient": "bottom", "title": null, "values": [-50,-40,-30,-20,-10,0,10,20,30,40,50,60,70,80,90], "labelExpr": "datum.value == -30 ? '30°S' : datum.value == 0 ? 'Eq' : datum.value == 30 ? '30°N' : datum.value == 60 ? '60°N' : datum.value == 90 ? '90°N' : ''", "tickSize": 6, "labelFontSize": 14, "labelPadding": 6, "labelFlush": false, "labelOverlap": false, "labelBound": false}},
      "fill": {"field": "band", "type": "nominal", "legend": null, "scale": {"domain": ["a_lt_m10","a_m10_m5","a_cyan","a_5_10","a_10_20","a_20_30","a_30_40","a_40_50","a_50_60","a_gt60"], "range": ["#1E8CFF","#00BFFF","#00FFFF","#FFD200","#FFAA00","#FF9000","#FF7300","#FF5500","#FF3300","#FF0000"]}},
      "detail": {"field": "pg"},
      "order": {"field": "i", "type": "quantitative"}
     }},
    {"data": {"name": "lab"}, "transform": [{"filter": {"field": "panel", "equal": "A"}}],
     "mark": {"type": "point", "filled": true, "color": "white", "opacity": 1, "size": 900, "strokeWidth": 0},
     "encoding": {
      "x": {"field": "lat", "type": "quantitative", "axis": {"orient": "top", "title": null, "labels": false, "values": [-50,-40,-30,-20,-10,0,10,20,30,40,50,60,70,80,90], "tickSize": 4, "domain": false}},
      "shape": {"field": "t", "type": "nominal", "legend": null, "scale": {"domain": ["1","2","3","4","5","6","-5","10","20","30","40","50","60","-10","-15"], "range": ["M-0.46,-0.45L0.46,-0.45L0.46,0.45L-0.46,0.45Z","M-0.46,-0.45L0.46,-0.45L0.46,0.45L-0.46,0.45Z","M-0.46,-0.45L0.46,-0.45L0.46,0.45L-0.46,0.45Z","M-0.46,-0.45L0.46,-0.45L0.46,0.45L-0.46,0.45Z","M-0.46,-0.45L0.46,-0.45L0.46,0.45L-0.46,0.45Z","M-0.46,-0.45L0.46,-0.45L0.46,0.45L-0.46,0.45Z","M-0.72,-0.45L0.72,-0.45L0.72,0.45L-0.72,0.45Z","M-0.84,-0.45L0.84,-0.45L0.84,0.45L-0.84,0.45Z","M-0.84,-0.45L0.84,-0.45L0.84,0.45L-0.84,0.45Z","M-0.84,-0.45L0.84,-0.45L0.84,0.45L-0.84,0.45Z","M-0.84,-0.45L0.84,-0.45L0.84,0.45L-0.84,0.45Z","M-0.84,-0.45L0.84,-0.45L0.84,0.45L-0.84,0.45Z","M-0.84,-0.45L0.84,-0.45L0.84,0.45L-0.84,0.45Z","M-1.02,-0.45L1.02,-0.45L1.02,0.45L-1.02,0.45Z","M-1.02,-0.45L1.02,-0.45L1.02,0.45L-1.02,0.45Z"]}},
      "angle": {"field": "rot", "type": "quantitative", "scale": null}
     }},
    {"data": {"name": "lab"}, "transform": [{"filter": {"field": "panel", "equal": "A"}}],
     "mark": {"type": "text", "fontSize": 15, "color": "black", "align": "center", "baseline": "middle"},
     "encoding": {
      "x": {"field": "lat", "type": "quantitative", "axis": null},
      "text": {"field": "t"},
      "angle": {"field": "rot", "type": "quantitative", "scale": null}
     }}
   ],
   "resolve": {"axis": {"x": "independent"}}
  },
  {
   "title": {"text": "B", "anchor": "start", "frame": "bounds", "fontSize": 24, "fontWeight": "bold", "offset": -20},
   "width": 300, "height": 207,
   "encoding": {
     "y": {"field": "p", "type": "quantitative", "scale": {"type": "symlog", "constant": 15, "domain": [38.6, 1000], "reverse": true, "nice": false, "zero": false},
           "axis": {"orient": "left", "title": "Pressure [hPa]", "titleFontSize": 15, "titleFontWeight": "normal", "titlePadding": 6, "values": [52,58,65,72,80,88,95,103,112,122,133,145,158,172,185,198,215,235,255,280,301,325,350,375,400,425,450,475,499,530,560,590,620,650,680,705,730,755,785,815,845,870,895,920,940,958,972,984,993,1000], "labelExpr": "(datum.value == 52 || datum.value == 103 || datum.value == 198 || datum.value == 301 || datum.value == 499 || datum.value == 755 || datum.value == 1000) ? '' + datum.value : ''", "tickSize": 5, "labelFontSize": 13, "labelPadding": 7, "labelFlush": false, "labelOverlap": false}}
   },
   "layer": [
    {"data": {"name": "poly"}, "transform": [{"filter": {"field": "panel", "equal": "B"}}],
     "mark": {"type": "line", "stroke": "black", "strokeWidth": 1.3, "clip": true, "strokeJoin": "round"},
     "encoding": {
      "x": {"field": "lat", "type": "quantitative", "scale": {"domain": [-54.4, 90], "nice": false, "zero": false},
            "axis": {"orient": "bottom", "title": null, "values": [-50,-40,-30,-20,-10,0,10,20,30,40,50,60,70,80,90], "labelExpr": "datum.value == -30 ? '30°S' : datum.value == 0 ? 'Eq' : datum.value == 30 ? '30°N' : datum.value == 60 ? '60°N' : datum.value == 90 ? '90°N' : ''", "tickSize": 6, "labelFontSize": 14, "labelPadding": 6, "labelFlush": false, "labelOverlap": false, "labelBound": false}},
      "fill": {"field": "band", "type": "nominal", "legend": null, "scale": {"domain": ["b_lt_m20","b_lt_m15","b_m15_m10","b_m10_m5","b_gt_m5"], "range": ["#0050F0","#1E74FF","#1E96FF","#00BFFF","#00FFFF"]}},
      "detail": {"field": "pg"},
      "order": {"field": "i", "type": "quantitative"},
      "strokeOpacity": {"condition": {"test": "datum.band == 'b_lt_m20'", "value": 0}, "value": 1}
     }},
    {"data": {"name": "lab"}, "transform": [{"filter": {"field": "panel", "equal": "B"}}],
     "mark": {"type": "point", "filled": true, "color": "white", "opacity": 1, "size": 900, "strokeWidth": 0},
     "encoding": {
      "x": {"field": "lat", "type": "quantitative", "axis": {"orient": "top", "title": null, "labels": false, "values": [-50,-40,-30,-20,-10,0,10,20,30,40,50,60,70,80,90], "tickSize": 4, "domain": false}},
      "shape": {"field": "t", "type": "nominal", "legend": null, "scale": {"domain": ["1","2","3","4","5","6","-5","10","20","30","40","50","60","-10","-15"], "range": ["M-0.46,-0.45L0.46,-0.45L0.46,0.45L-0.46,0.45Z","M-0.46,-0.45L0.46,-0.45L0.46,0.45L-0.46,0.45Z","M-0.46,-0.45L0.46,-0.45L0.46,0.45L-0.46,0.45Z","M-0.46,-0.45L0.46,-0.45L0.46,0.45L-0.46,0.45Z","M-0.46,-0.45L0.46,-0.45L0.46,0.45L-0.46,0.45Z","M-0.46,-0.45L0.46,-0.45L0.46,0.45L-0.46,0.45Z","M-0.72,-0.45L0.72,-0.45L0.72,0.45L-0.72,0.45Z","M-0.84,-0.45L0.84,-0.45L0.84,0.45L-0.84,0.45Z","M-0.84,-0.45L0.84,-0.45L0.84,0.45L-0.84,0.45Z","M-0.84,-0.45L0.84,-0.45L0.84,0.45L-0.84,0.45Z","M-0.84,-0.45L0.84,-0.45L0.84,0.45L-0.84,0.45Z","M-0.84,-0.45L0.84,-0.45L0.84,0.45L-0.84,0.45Z","M-0.84,-0.45L0.84,-0.45L0.84,0.45L-0.84,0.45Z","M-1.02,-0.45L1.02,-0.45L1.02,0.45L-1.02,0.45Z","M-1.02,-0.45L1.02,-0.45L1.02,0.45L-1.02,0.45Z"]}},
      "angle": {"field": "rot", "type": "quantitative", "scale": null}
     }},
    {"data": {"name": "lab"}, "transform": [{"filter": {"field": "panel", "equal": "B"}}],
     "mark": {"type": "text", "fontSize": 15, "color": "black", "align": "center", "baseline": "middle"},
     "encoding": {
      "x": {"field": "lat", "type": "quantitative", "axis": null},
      "text": {"field": "t"},
      "angle": {"field": "rot", "type": "quantitative", "scale": null}
     }}
   ],
   "resolve": {"axis": {"x": "independent"}}
  }
 ], "spacing": 27, "resolve": {"scale": {"fill": "independent"}}},
 {"hconcat": [
  {"width": 143, "height": 10, "data": {"values": [{"k": 1}]}, "mark": {"type": "point", "opacity": 0}, "view": {"stroke": null}},
  {
   "title": {"text": "C", "anchor": "start", "frame": "bounds", "fontSize": 24, "fontWeight": "bold", "offset": -20},
   "width": 300, "height": 207,
   "encoding": {
     "y": {"field": "p", "type": "quantitative", "scale": {"type": "symlog", "constant": 15, "domain": [38.6, 1000], "reverse": true, "nice": false, "zero": false},
           "axis": {"orient": "left", "title": "Pressure [hPa]", "titleFontSize": 15, "titleFontWeight": "normal", "titlePadding": 6, "values": [52,58,65,72,80,88,95,103,112,122,133,145,158,172,185,198,215,235,255,280,301,325,350,375,400,425,450,475,499,530,560,590,620,650,680,705,730,755,785,815,845,870,895,920,940,958,972,984,993,1000], "labelExpr": "(datum.value == 52 || datum.value == 103 || datum.value == 198 || datum.value == 301 || datum.value == 499 || datum.value == 755 || datum.value == 1000) ? '' + datum.value : ''", "tickSize": 5, "labelFontSize": 13, "labelPadding": 7, "labelFlush": false, "labelOverlap": false}}
   },
   "layer": [
    {"data": {"name": "poly"}, "transform": [{"filter": {"field": "panel", "equal": "C"}}],
     "mark": {"type": "line", "stroke": "black", "strokeWidth": 1.3, "clip": true, "strokeJoin": "round"},
     "encoding": {
      "x": {"field": "lat", "type": "quantitative", "scale": {"domain": [-54.4, 90], "nice": false, "zero": false},
            "axis": {"orient": "bottom", "title": null, "values": [-50,-40,-30,-20,-10,0,10,20,30,40,50,60,70,80,90], "labelExpr": "datum.value == -30 ? '30°S' : datum.value == 0 ? 'Eq' : datum.value == 30 ? '30°N' : datum.value == 60 ? '60°N' : datum.value == 90 ? '90°N' : ''", "tickSize": 6, "labelFontSize": 14, "labelPadding": 6, "labelFlush": false, "labelOverlap": false, "labelBound": false}},
      "fill": {"field": "band", "type": "nominal", "legend": null, "scale": {"domain": ["c_blue","c_cyan","c_lt0","c_0_1","c_1_2","c_2_3","c_3_4","c_4_5","c_5_6","c_gt6"], "range": ["#00BFFF","#00FFFF","#00F57A","#FFD200","#FFA500","#FF8C00","#FF6E00","#FF4600","#FF1E00","#FF0000"]}},
      "detail": {"field": "pg"},
      "order": {"field": "i", "type": "quantitative"},
      "strokeOpacity": {"condition": {"test": "datum.band == 'c_cyan'", "value": 0}, "value": 1}
     }},
    {"data": {"name": "lab"}, "transform": [{"filter": {"field": "panel", "equal": "C"}}],
     "mark": {"type": "point", "filled": true, "color": "white", "opacity": 1, "size": 900, "strokeWidth": 0},
     "encoding": {
      "x": {"field": "lat", "type": "quantitative", "axis": {"orient": "top", "title": null, "labels": false, "values": [-50,-40,-30,-20,-10,0,10,20,30,40,50,60,70,80,90], "tickSize": 4, "domain": false}},
      "shape": {"field": "t", "type": "nominal", "legend": null, "scale": {"domain": ["1","2","3","4","5","6","-5","10","20","30","40","50","60","-10","-15"], "range": ["M-0.46,-0.45L0.46,-0.45L0.46,0.45L-0.46,0.45Z","M-0.46,-0.45L0.46,-0.45L0.46,0.45L-0.46,0.45Z","M-0.46,-0.45L0.46,-0.45L0.46,0.45L-0.46,0.45Z","M-0.46,-0.45L0.46,-0.45L0.46,0.45L-0.46,0.45Z","M-0.46,-0.45L0.46,-0.45L0.46,0.45L-0.46,0.45Z","M-0.46,-0.45L0.46,-0.45L0.46,0.45L-0.46,0.45Z","M-0.72,-0.45L0.72,-0.45L0.72,0.45L-0.72,0.45Z","M-0.84,-0.45L0.84,-0.45L0.84,0.45L-0.84,0.45Z","M-0.84,-0.45L0.84,-0.45L0.84,0.45L-0.84,0.45Z","M-0.84,-0.45L0.84,-0.45L0.84,0.45L-0.84,0.45Z","M-0.84,-0.45L0.84,-0.45L0.84,0.45L-0.84,0.45Z","M-0.84,-0.45L0.84,-0.45L0.84,0.45L-0.84,0.45Z","M-0.84,-0.45L0.84,-0.45L0.84,0.45L-0.84,0.45Z","M-1.02,-0.45L1.02,-0.45L1.02,0.45L-1.02,0.45Z","M-1.02,-0.45L1.02,-0.45L1.02,0.45L-1.02,0.45Z"]}},
      "angle": {"field": "rot", "type": "quantitative", "scale": null}
     }},
    {"data": {"name": "lab"}, "transform": [{"filter": {"field": "panel", "equal": "C"}}],
     "mark": {"type": "text", "fontSize": 15, "color": "black", "align": "center", "baseline": "middle"},
     "encoding": {
      "x": {"field": "lat", "type": "quantitative", "axis": null},
      "text": {"field": "t"},
      "angle": {"field": "rot", "type": "quantitative", "scale": null}
     }}
   ],
   "resolve": {"axis": {"x": "independent"}}
  }
 ], "spacing": 0, "resolve": {"scale": {"fill": "independent"}}}
],
"spacing": 25,
"resolve": {"scale": {"fill": "independent"}}
}
